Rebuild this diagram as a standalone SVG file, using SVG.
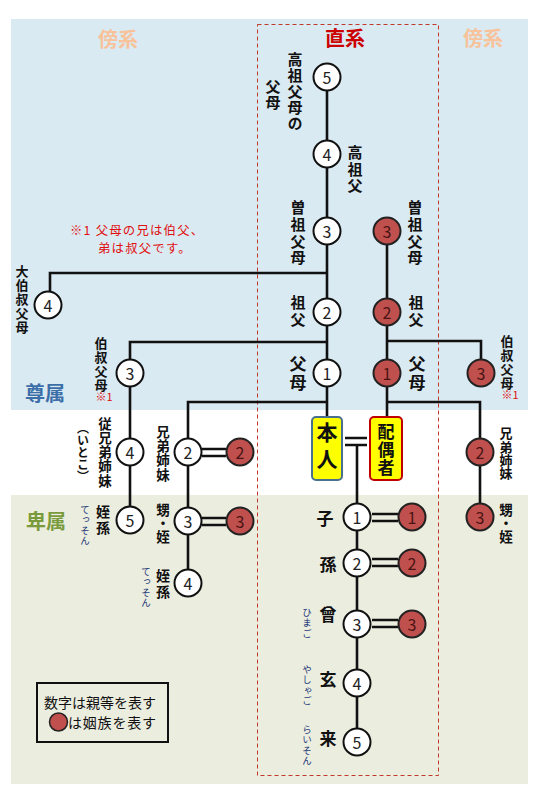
<svg xmlns="http://www.w3.org/2000/svg" width="540" height="796" viewBox="0 0 540 796">
<style>
.ln{stroke:#111;stroke-width:2.6;fill:none}
.eq{stroke:#111;stroke-width:2.4;fill:none}
.cw{fill:#fff;stroke:#111;stroke-width:2}
.cr{fill:#c0504d;stroke:#222;stroke-width:2}
.num{font-family:"Noto Sans CJK JP","Liberation Sans",sans-serif;font-size:16px;fill:#222;text-anchor:middle;dominant-baseline:central}
.numr{font-family:"Noto Sans CJK JP","Liberation Sans",sans-serif;font-size:16px;fill:#4a1414;text-anchor:middle;dominant-baseline:central}
.v{font-family:"Noto Sans CJK JP",sans-serif;font-weight:bold;fill:#111;writing-mode:vertical-rl}
.h{font-family:"Noto Sans CJK JP",sans-serif;font-weight:bold;fill:#111;text-anchor:middle;dominant-baseline:central}
.kana{font-family:"Noto Sans CJK JP",sans-serif;fill:#1f3a7a;writing-mode:vertical-rl;font-size:9.5px;letter-spacing:0.6px}
.note{font-family:"Noto Sans CJK JP",sans-serif;fill:#e01010}
.hd{font-family:"Noto Sans CJK JP",sans-serif;font-weight:bold;font-size:20px;text-anchor:middle;dominant-baseline:central}
.lg{font-family:"Noto Sans CJK JP",sans-serif;font-size:14px;fill:#111}
</style>
<rect x="0" y="0" width="540" height="796" fill="#fff"/>
<rect x="11" y="19" width="517" height="391" fill="#daeaf2"/>
<rect x="11" y="495" width="517" height="289" fill="#ebeddf"/>
<rect x="257.5" y="24.5" width="181" height="751" fill="none" stroke="#c0392b" stroke-width="1" stroke-dasharray="4,3"/>
<g id="headings">
<text class="hd" x="118" y="38" fill="#f8c29a">傍系</text>
<text class="hd" x="345" y="37" fill="#cc0000">直系</text>
<text class="hd" x="483" y="37" fill="#f8c29a">傍系</text>
<text class="hd" x="45" y="392" fill="#3c6ea8">尊属</text>
<text class="hd" x="46" y="520" fill="#7a9b3c">卑属</text>
</g>
<g id="note">
<text class="note" x="70" y="234.5" font-size="12.4" letter-spacing="1.2">※1 父母の兄は伯父、</text>
<text class="note" x="98" y="253" font-size="12.4" letter-spacing="1.2">弟は叔父です。</text>
</g>
<g id="connectors">
<path class="ln" d="M327 77 V373 M327 373 V417"/>
<path class="ln" d="M327 273 H50 V305"/>
<path class="ln" d="M327 342 H130 V520"/>
<path class="ln" d="M327 402 H188 V583"/>
<path class="ln" d="M387 231 V417"/>
<path class="ln" d="M387 341 H481 V373"/>
<path class="ln" d="M387 402 H480 V517"/>
<path class="ln" d="M357 445 V742"/>
<path class="eq" d="M345 438 H367 M345 445 H367"/>
<path class="eq" d="M202 449 H226 M202 456 H226"/>
<path class="eq" d="M202 518 H226 M202 525 H226"/>
<path class="eq" d="M372 514 H398 M372 521 H398"/>
<path class="eq" d="M372 559 H398 M372 566 H398"/>
<path class="eq" d="M372 620 H398 M372 627 H398"/>
</g>
<g id="n-kosofubo-fubo"><circle class="cw" cx="327" cy="77" r="13.5"/><text class="num" x="327" y="77">5</text>
<text class="v" x="295" y="52" font-size="15" letter-spacing="1">高祖父母の</text><text class="v" x="273" y="79" font-size="15" letter-spacing="1">父母</text></g>
<g id="n-kosofu"><circle class="cw" cx="327" cy="154" r="13.5"/><text class="num" x="327" y="154">4</text>
<text class="v" x="355" y="145" font-size="15" letter-spacing="1.5">高祖父</text></g>
<g id="n-sosofubo"><circle class="cw" cx="327" cy="231" r="13.5"/><text class="num" x="327" y="231">3</text>
<text class="v" x="298" y="200" font-size="15" letter-spacing="1.7">曽祖父母</text></g>
<g id="n-sofu"><circle class="cw" cx="327" cy="312" r="13.5"/><text class="num" x="327" y="312">2</text>
<text class="v" x="298" y="295" font-size="15" letter-spacing="1.5">祖父</text></g>
<g id="n-fubo"><circle class="cw" cx="327" cy="373" r="13.5"/><text class="num" x="327" y="373">1</text>
<text class="v" x="298" y="355" font-size="17" letter-spacing="2">父母</text></g>
<g id="n-s-sosofubo"><circle class="cr" cx="387" cy="231" r="13.5"/><text class="numr" x="387" y="231">3</text>
<text class="v" x="415" y="200" font-size="15" letter-spacing="1.7">曽祖父母</text></g>
<g id="n-s-sofu"><circle class="cr" cx="387" cy="312" r="13.5"/><text class="numr" x="387" y="312">2</text>
<text class="v" x="416" y="295" font-size="15" letter-spacing="1.5">祖父</text></g>
<g id="n-s-fubo"><circle class="cr" cx="387" cy="373" r="13.5"/><text class="numr" x="387" y="373">1</text>
<text class="v" x="417" y="355" font-size="17" letter-spacing="2">父母</text></g>
<g id="n-daioji"><circle class="cw" cx="48" cy="305" r="13.5"/><text class="num" x="48" y="305">4</text>
<text class="v" x="22" y="265" font-size="13" letter-spacing="1">大伯叔父母</text></g>
<g id="n-oji"><circle class="cw" cx="130" cy="373" r="13.5"/><text class="num" x="130" y="373">3</text>
<text class="v" x="101" y="337" font-size="13" letter-spacing="0.8">伯叔父母</text><text class="note" x="104" y="401" font-size="11" text-anchor="middle">※1</text></g>
<g id="n-s-oji"><circle class="cr" cx="481" cy="373" r="13.5"/><text class="numr" x="481" y="373">3</text>
<text class="v" x="507" y="335" font-size="13" letter-spacing="0.8">伯叔父母</text><text class="note" x="510" y="399" font-size="11" text-anchor="middle">※1</text></g>
<g id="n-itoko"><circle class="cw" cx="130" cy="452" r="13.5"/><text class="num" x="130" y="452">4</text>
<text class="v" x="105" y="417" font-size="13.5" letter-spacing="0.7">従兄弟姉妹</text><text class="v" x="83" y="422" font-size="12">（いとこ）</text></g>
<g id="n-tesson1"><circle class="cw" cx="130" cy="520" r="13.5"/><text class="num" x="130" y="520">5</text>
<text class="v" x="103" y="505" font-size="14" letter-spacing="2">姪孫</text><text class="kana" x="85" y="505">てっそん</text></g>
<g id="n-kyodai"><circle class="cw" cx="188" cy="452" r="13.5"/><text class="num" x="188" y="452">2</text>
<text class="v" x="163" y="425" font-size="13.5" letter-spacing="0.8">兄弟姉妹</text></g>
<g id="n-kyodai-sp"><circle class="cr" cx="240" cy="452" r="13.5"/><text class="numr" x="240" y="452">2</text></g>
<g id="n-oi"><circle class="cw" cx="188" cy="521" r="13.5"/><text class="num" x="188" y="521">3</text>
<text class="v" x="163" y="503" font-size="13.5">甥・姪</text></g>
<g id="n-oi-sp"><circle class="cr" cx="240" cy="521" r="13.5"/><text class="numr" x="240" y="521">3</text></g>
<g id="n-tesson2"><circle class="cw" cx="188" cy="583" r="13.5"/><text class="num" x="188" y="583">4</text>
<text class="v" x="163" y="569" font-size="14" letter-spacing="2">姪孫</text><text class="kana" x="146" y="567">てっそん</text></g>
<g id="n-s-kyodai"><circle class="cr" cx="480" cy="452" r="13.5"/><text class="numr" x="480" y="452">2</text>
<text class="v" x="506" y="427" font-size="13" letter-spacing="0.3">兄弟姉妹</text></g>
<g id="n-s-oi"><circle class="cr" cx="480" cy="517" r="13.5"/><text class="numr" x="480" y="517">3</text>
<text class="v" x="506" y="503" font-size="13.5">甥・姪</text></g>
<g id="n-honnin"><rect x="312" y="417" width="30" height="63" rx="4" fill="#ffff00" stroke="#4a7090" stroke-width="2"/>
<text class="v" x="327" y="422" font-size="21" letter-spacing="6">本人</text></g>
<g id="n-haigusha"><rect x="370" y="417" width="32" height="63" rx="4" fill="#ffff00" stroke="#c00000" stroke-width="2"/>
<text class="v" x="386" y="423.5" font-size="17" letter-spacing="1">配偶者</text></g>
<g id="n-ko"><circle class="cw" cx="357" cy="517" r="13.5"/><text class="num" x="357" y="517">1</text><text class="h" x="325" y="517" font-size="17">子</text></g>
<g id="n-ko-sp"><circle class="cr" cx="412" cy="517" r="13.5"/><text class="numr" x="412" y="517">1</text></g>
<g id="n-mago"><circle class="cw" cx="357" cy="563" r="13.5"/><text class="num" x="357" y="563">2</text><text class="h" x="328" y="563" font-size="17">孫</text></g>
<g id="n-mago-sp"><circle class="cr" cx="412" cy="563" r="13.5"/><text class="numr" x="412" y="563">2</text></g>
<g id="n-himago"><circle class="cw" cx="357" cy="624" r="13.5"/><text class="num" x="357" y="624">3</text><text class="h" x="328" y="613" font-size="17">曾</text><text class="kana" x="307" y="608">ひまご</text></g>
<g id="n-himago-sp"><circle class="cr" cx="412" cy="624" r="13.5"/><text class="numr" x="412" y="624">3</text></g>
<g id="n-yashago"><circle class="cw" cx="357" cy="683" r="13.5"/><text class="num" x="357" y="683">4</text><text class="h" x="328" y="678" font-size="17">玄</text><text class="kana" x="307" y="665">やしゃご</text></g>
<g id="n-raison"><circle class="cw" cx="357" cy="742" r="13.5"/><text class="num" x="357" y="742">5</text><text class="h" x="328" y="737" font-size="17">来</text><text class="kana" x="307" y="725">らいそん</text></g>
<g id="legend">
<rect x="37" y="683" width="131" height="59" fill="none" stroke="#111" stroke-width="2"/>
<text class="lg" x="44" y="708">数字は親等を表す</text>
<circle cx="58.5" cy="722" r="9" fill="#c0504d" stroke="#222" stroke-width="1.5"/>
<text class="lg" x="68" y="728" letter-spacing="0.8">は姻族を表す</text>
</g>
</svg>
